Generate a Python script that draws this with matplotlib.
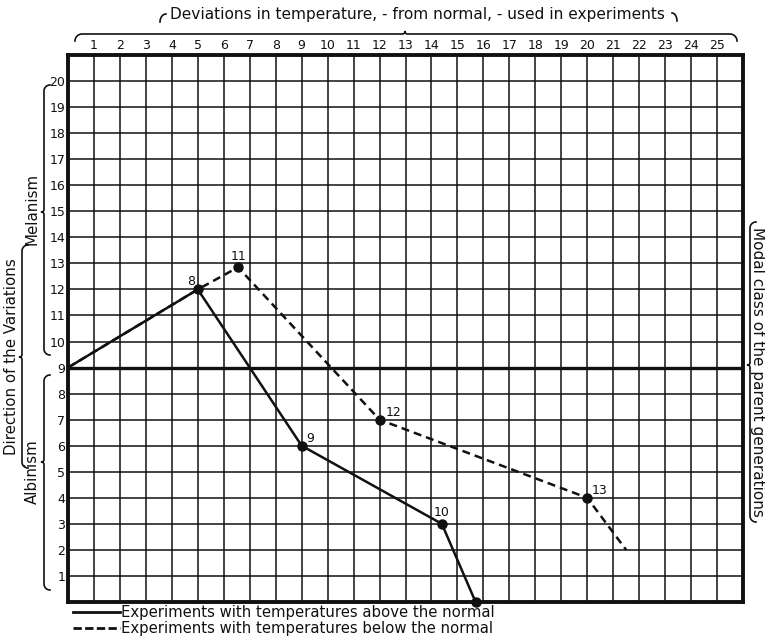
import numpy as np
import matplotlib.pyplot as plt
from matplotlib.lines import Line2D

W, H = 765, 638

# Grid labels
x_ticks = list(range(1, 26))
y_ticks = list(range(1, 21))

# Experiments with temperatures above the normal
above_x = [0, 5, 9, 14.4, 15.7]
above_y = [9, 12, 6, 3, 0]
above_labels = ["", "8", "9", "10", ""]
above_marked = [False, True, True, True, True]

# Experiments with temperatures below the normal
below_x = [0, 5, 6.55, 12, 20, 21.5]
below_y = [9, 12, 12.85, 7, 4, 2]
below_labels = ["", "", "11", "12", "13", ""]
below_marked = [False, False, True, True, True, False]

legend_texts = ["Experiments with temperatures above the normal",
                "Experiments with temperatures below the normal"]

label_offsets = {"8": (-5, 6), "9": (6, 5), "10": (0, 8),
                 "11": (0, 8), "12": (10, 5), "13": (9, 5)}

FONT = "DejaVu Sans"
INK = "#111111"

fig = plt.figure(figsize=(W / 100, H / 100), dpi=100)
ax = fig.add_axes([68 / W, 1 - 602 / H, 675 / W, 547 / H])
ax.set_xlim(0, 26)
ax.set_ylim(0, 21)

# grid
for v in range(1, 26):
    ax.axvline(v, color=INK, lw=1.1, zorder=1)
for v in range(1, 21):
    ax.axhline(v, color=INK, lw=1.1 if v != 9 else 2.4, zorder=1)
for s in ax.spines.values():
    s.set_linewidth(2.8)
    s.set_color(INK)

ax.xaxis.tick_top()
ax.set_xticks(x_ticks)
ax.set_xticklabels([str(v) for v in x_ticks], fontsize=9, family=FONT)
ax.set_yticks(y_ticks)
ax.set_yticklabels([str(v) for v in y_ticks], fontsize=9, family=FONT)
ax.tick_params(length=0, pad=2, colors=INK)

# data lines
ax.plot(above_x, above_y, color=INK, lw=1.8, zorder=3, solid_capstyle="round")
ax.plot(below_x, below_y, color=INK, lw=1.8, zorder=3, dashes=(3.2, 2.0))
for xs, ys, marks, labs in [(above_x, above_y, above_marked, above_labels),
                            (below_x, below_y, below_marked, below_labels)]:
    for xv, yv, m, lab in zip(xs, ys, marks, labs):
        if m:
            ax.plot([xv], [yv], "o", color=INK, ms=6.5, zorder=4, clip_on=False)
        if lab:
            dx, dy = label_offsets[lab]
            ax.annotate(lab, (xv, yv), xytext=(dx, dy), textcoords="offset points",
                        ha="center", va="center", fontsize=9, family=FONT, color=INK)


def fp(x, y):
    return x / W, 1 - y / H


def brace(u0, u1, um, v, end_dir, tip_dir, r=6, rt=2.5, vertical=True, lw=1.2):
    th = np.linspace(0, np.pi / 2, 10)
    pts = []
    # first end hook
    cx, cy = v + end_dir * r, u0 + r
    pts += list(zip(cx - end_dir * r * np.sin(th), cy - r * np.cos(th)))
    if um is not None:
        cx, cy = v + tip_dir * rt, um - rt
        pts += list(zip(cx - tip_dir * rt * np.cos(th), cy + rt * np.sin(th)))
        cx, cy = v + tip_dir * rt, um + rt
        pts += list(zip(cx - tip_dir * rt * np.sin(th), cy - rt * np.cos(th)))
    cx, cy = v + end_dir * r, u1 - r
    pts += list(zip(cx - end_dir * r * np.cos(th), cy + r * np.sin(th)))
    pts = np.array(pts)
    if vertical:
        xs, ys = pts[:, 0], pts[:, 1]
    else:
        xs, ys = pts[:, 1], pts[:, 0]
    fx, fy = fp(xs, ys)
    fig.add_artist(Line2D(fx, fy, color=INK, lw=lw, transform=fig.transFigure))


# left side braces
brace(85, 355, 212, 44, +1, -1)
brace(375, 590, 462, 44, +1, -1)
brace(245, 468, 357, 22, +1, -1)
# right side brace
brace(222, 522, 365, 750, +1, -1)
# brace over the column numbers
brace(75, 737, 405, 34, +1, -1, r=7, vertical=False)

# small hooks round the heading
th = np.linspace(0, np.pi / 2, 10)
hx = 166 - 6 * np.sin(th)
hy = 22 - 8 * np.cos(th)
fig.add_artist(Line2D(*fp(hx, hy), color=INK, lw=1.2, transform=fig.transFigure))
hx = 672 + 5 * np.sin(th)
hy = 21 - 8 * np.cos(th)
fig.add_artist(Line2D(*fp(hx, hy), color=INK, lw=1.2, transform=fig.transFigure))

txt = dict(family=FONT, color=INK)
fig.text(*fp(417, 14), "Deviations in temperature, - from normal, - used in experiments",
         ha="center", va="center", fontsize=11.1, **txt)
fig.text(*fp(32, 209), "Melanism", rotation=90, ha="center", va="center",
         fontsize=10.8, **txt)
fig.text(*fp(32, 472), "Albinism", rotation=90, ha="center", va="center",
         fontsize=10.8, **txt)
fig.text(*fp(12, 357), "Direction of the Variations", rotation=90,
         ha="center", va="center", fontsize=10.8, **txt)
fig.text(*fp(758, 372), "Modal class of the parent generations", rotation=270,
         ha="center", va="center", fontsize=11, **txt)

# legend
fig.add_artist(Line2D(*fp(np.array([73, 120]), np.array([612, 612])), color=INK, lw=2.0,
                      transform=fig.transFigure))
fig.add_artist(Line2D(*fp(np.array([73, 120]), np.array([628, 628])), color=INK, lw=2.0,
                      dashes=(3.0, 1.2), transform=fig.transFigure))
fig.text(*fp(121, 612), legend_texts[0], ha="left", va="center", fontsize=10.7, **txt)
fig.text(*fp(121, 628), legend_texts[1], ha="left", va="center", fontsize=10.7, **txt)

fig.savefig("out.png", dpi=100, facecolor="white")
